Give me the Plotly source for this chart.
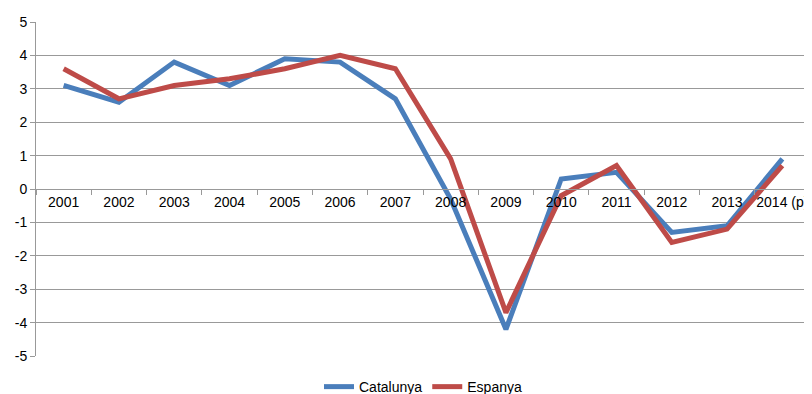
import plotly.graph_objects as go

years = ["2001", "2002", "2003", "2004", "2005", "2006", "2007", "2008", "2009", "2010", "2011", "2012", "2013", "2014 (p)"]
catalunya = [3.1, 2.6, 3.8, 3.1, 3.9, 3.8, 2.7, -0.3, -4.2, 0.3, 0.5, -1.3, -1.1, 0.9]
espanya = [3.6, 2.7, 3.1, 3.3, 3.6, 4.0, 3.6, 0.9, -3.7, -0.2, 0.7, -1.6, -1.2, 0.7]
y_tick_values = [5, 4, 3, 2, 1, 0, -1, -2, -3, -4, -5]
y_tick_labels = ["5", "4", "3", "2", "1", "0", "-1", "-2", "-3", "-4", "-5"]

fig = go.Figure()
fig.add_trace(go.Scatter(x=years, y=catalunya, mode="lines", name="Catalunya",
                         line=dict(color="#4A7EBB", width=5)))
fig.add_trace(go.Scatter(x=years, y=espanya, mode="lines", name="Espanya",
                         line=dict(color="#BE4B48", width=5)))

fig.update_layout(
    width=812, height=394,
    margin=dict(l=28, r=10, t=14, b=46, autoexpand=False),
    paper_bgcolor="white", plot_bgcolor="white",
    font=dict(family="Liberation Sans, Arial, sans-serif", size=14, color="black"),
    showlegend=True,
    legend=dict(orientation="h", x=0.5, xanchor="center", y=-0.045, yanchor="top",
                font=dict(size=14), itemwidth=30, traceorder="normal"),
    xaxis=dict(type="category", range=[-0.5, 13.5], anchor="free", position=0.5,
               showline=True, linecolor="#999999", linewidth=1, automargin=False,
               ticks="outside", tickson="boundaries", ticklen=5, tickcolor="#999999",
               showgrid=False, tickangle=0, tickfont=dict(size=14), fixedrange=True),
    yaxis=dict(range=[-5, 5], tickmode="array", tickvals=y_tick_values, ticktext=y_tick_labels,
               showgrid=True, gridcolor="#999999",
               gridwidth=1, zeroline=False, showline=True, linecolor="#999999",
               linewidth=1, ticks="outside", ticklen=5, tickcolor="#999999",
               automargin=False, tickfont=dict(size=14)),
)

fig.write_html("out.html")
